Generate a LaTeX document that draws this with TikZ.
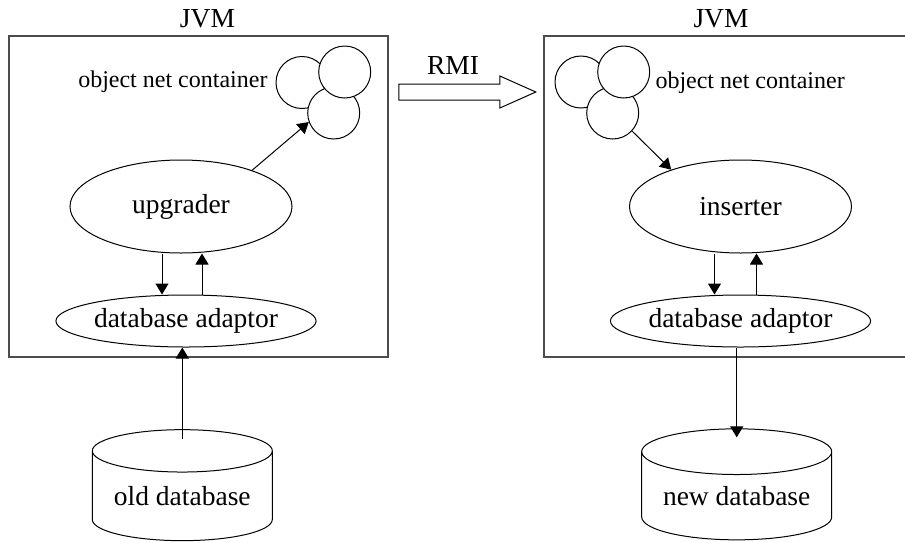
\documentclass[tikz,border=0pt]{standalone}
\usepackage{fontspec}
\setmainfont{Liberation Serif}
\usetikzlibrary{shapes.geometric,shapes.arrows,arrows.meta}

\def\txtsize{27.5}
\def\smallsize{24}

\begin{document}
\begin{tikzpicture}[x=1pt,y=-1pt,line width=1pt]
\tikzstyle{jvm}=[draw=black!70,line width=1.3pt,minimum height=321pt,inner sep=0]
\tikzstyle{titre}=[inner sep=0,font=\fontsize{\txtsize}{30}\selectfont]
\tikzstyle{petit}=[inner sep=0,font=\fontsize{\smallsize}{28}\selectfont]
\tikzstyle{proc}=[draw,ellipse,inner sep=0,minimum width=222pt,minimum height=93pt,font=\fontsize{\txtsize}{30}\selectfont]
\tikzstyle{adapt}=[draw,ellipse,inner sep=0,minimum width=242pt,minimum height=52pt,font=\fontsize{\txtsize}{30}\selectfont]
\tikzstyle{objet}=[draw,circle,fill=white,inner sep=0,minimum size=52pt]
\tikzstyle{base}=[draw,cylinder,shape border rotate=90,aspect=0.31,inner sep=0,minimum height=111pt,font=\fontsize{\txtsize}{30}\selectfont]
\tikzstyle{fleche}=[-{Triangle[length=11pt,width=13pt]}]
\tikzstyle{rmi}=[draw,single arrow,inner xsep=0,inner ysep=7.5pt,minimum width=31pt,minimum height=137pt,single arrow head extend=8pt,single arrow tip angle=48]

\clip (0,0) rectangle (905,542);

% the two JVMs
\node[jvm,minimum width=379pt] (jvm1) at (198.5,196.5) {};
\node[jvm,minimum width=366pt] (jvm2) at (727,196.5) {};
\node[titre] (t1) at (207.5,19) {JVM};
\node[titre] (t2) at (721,19) {JVM};

% object nets
\node[objet] (lc1) at (302,82.5) {};
\node[objet] (lc3) at (333.7,113) {};
\node[objet] (lc2) at (344.7,72) {};
\node[petit,anchor=east] (lnet) at (268,82) {object net container};

\node[objet] (rc1) at (581,82) {};
\node[objet] (rc3) at (612.7,113) {};
\node[objet] (rc2) at (623.7,72) {};
\node[petit,anchor=west] (rnet) at (655,83) {object net container};

% RMI
\node[rmi,anchor=tail] (fl) at (398.3,92) {};
\node[titre] (trmi) at (453,65.5) {RMI};

% processes
\node[proc] (upgrader) at (181,206.5) {upgrader};
\node[proc] (inserter) at (740.5,206.5) {inserter};
\node[adapt] (oldad) at (186,321) {database adaptor};
\node[adapt] (newad) at (740.5,321) {database adaptor};

% databases
\node[base,minimum width=180pt] (olddb) at (182.3,496) {old database};
\node[base,minimum width=190pt] (newdb) at (736.7,496) {new database};

\draw[fleche] (upgrader.27) -- (lc3.200);
\draw[fleche] (rc3.-43) -- (inserter.152);
\draw[fleche] ([xshift=-19pt]upgrader.south) -- ([xshift=-24pt]oldad.north);
\draw[fleche] ([xshift=16pt]oldad.north) -- ([xshift=21pt]upgrader.south);
\draw[fleche] ([xshift=-26pt]inserter.south) -- ([xshift=-26pt]newad.north);
\draw[fleche] ([xshift=16pt]newad.north) -- ([xshift=16pt]inserter.south);
\draw[fleche] ([yshift=-10pt]olddb.north) -- (olddb.north |- oldad.south);
\draw[fleche] (newad.south -| newdb.north) -- ([yshift=-9pt]newdb.north);

\end{tikzpicture}
\end{document}
